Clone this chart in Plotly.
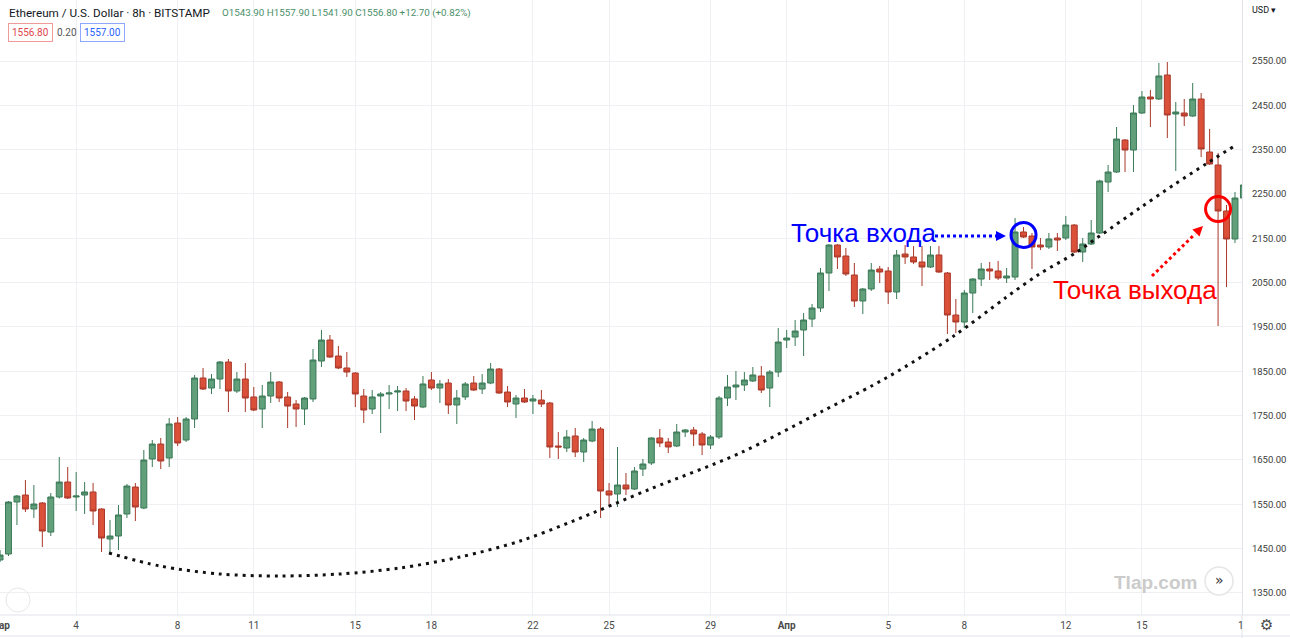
import pandas as pd
import plotly.graph_objects as go

# ---------------- data (8h candles, ETH/USD, Bitstamp) ----------------
start_time = "2021-03-01 00:00"

open_ = [1424.4, 1437.9, 1555.2, 1571.0, 1539.4, 1553.0, 1487.4, 1566.5, 1600.3, 1566.5,
         1571.0, 1577.8, 1539.4, 1471.7, 1478.5, 1528.1, 1589.0, 1541.6, 1652.2, 1686.0,
         1654.4, 1733.4, 1695.0, 1742.4, 1834.9, 1812.3, 1832.6, 1871.0, 1805.6, 1832.6,
         1792.1, 1765.0, 1794.3, 1825.9, 1792.1, 1776.2, 1765.0, 1787.6, 1873.2, 1920.6,
         1884.5, 1857.5, 1846.2, 1794.3, 1765.0, 1794.3, 1798.8, 1803.3, 1805.6, 1787.6,
         1769.5, 1830.4, 1812.3, 1823.6, 1774.0, 1792.1, 1823.6, 1810.1, 1823.6, 1855.2,
         1803.3, 1776.2, 1789.8, 1783.0, 1785.3, 1778.5, 1681.5, 1677.0, 1704.1, 1668.0,
         1692.8, 1719.8, 1580.0, 1573.2, 1593.5, 1584.5, 1629.6, 1643.2, 1699.6, 1690.5,
         1681.5, 1713.1, 1717.6, 1708.6, 1683.8, 1701.8, 1789.8, 1814.6, 1819.1, 1828.2,
         1839.4, 1812.3, 1848.4, 1920.6, 1927.4, 1943.2, 1968.0, 1992.8, 2071.8, 2134.9,
         2110.1, 2067.2, 2008.6, 2035.7, 2080.8, 2076.3, 2028.9, 2114.6, 2107.9, 2096.6,
         2085.3, 2112.4, 2071.8, 1977.0, 1961.2, 2026.6, 2058.2, 2080.8, 2076.3, 2060.5,
         2062.7, 2164.3, 2155.2, 2134.9, 2130.4, 2150.7, 2150.7, 2180.0, 2119.1, 2137.2,
         2162.0, 2277.0, 2299.6, 2371.8, 2349.2, 2432.7, 2468.8, 2464.3, 2518.4, 2430.4,
         2432.7, 2425.9, 2464.3, 2344.7, 2315.4, 2211.6, 2148.5, 2240.9]

high = [1446.9, 1557.4, 1571.0, 1604.8, 1593.5, 1555.0, 1575.5, 1656.7, 1634.1, 1622.9,
        1600.3, 1598.0, 1541.0, 1514.6, 1548.4, 1595.8, 1598.0, 1672.5, 1695.0, 1699.6,
        1744.7, 1747.0, 1747.0, 1841.7, 1857.5, 1843.9, 1873.2, 1877.8, 1848.4, 1868.7,
        1814.6, 1819.1, 1848.4, 1828.0, 1803.3, 1785.3, 1792.0, 1900.3, 1943.2, 1931.9,
        1907.1, 1893.5, 1848.0, 1810.1, 1807.8, 1803.3, 1819.1, 1816.9, 1812.3, 1794.3,
        1839.4, 1848.4, 1830.4, 1832.6, 1807.8, 1825.9, 1839.4, 1843.9, 1868.7, 1857.5,
        1816.9, 1796.6, 1810.1, 1796.6, 1807.8, 1780.8, 1713.1, 1717.6, 1722.1, 1699.6,
        1737.9, 1724.4, 1598.0, 1679.3, 1620.6, 1634.1, 1652.2, 1701.0, 1719.8, 1699.6,
        1731.1, 1719.8, 1724.4, 1713.1, 1706.3, 1794.3, 1841.7, 1850.7, 1848.4, 1859.7,
        1862.0, 1853.0, 1947.7, 1943.2, 1965.7, 1981.5, 2001.8, 2083.1, 2137.2, 2137.0,
        2128.2, 2094.3, 2038.0, 2094.3, 2087.6, 2085.3, 2123.6, 2134.9, 2132.6, 2132.6,
        2132.6, 2132.6, 2074.0, 2013.1, 2033.4, 2060.0, 2094.3, 2096.6, 2098.8, 2083.1,
        2195.8, 2175.5, 2162.0, 2150.7, 2162.0, 2162.0, 2200.3, 2182.0, 2150.7, 2191.3,
        2282.0, 2315.4, 2401.1, 2374.0, 2450.7, 2482.3, 2484.6, 2545.5, 2547.7, 2457.5,
        2464.3, 2500.4, 2477.8, 2396.6, 2342.4, 2225.2, 2254.5, 2281.6]

low = [1419.9, 1433.4, 1503.3, 1532.6, 1519.1, 1453.7, 1478.4, 1563.0, 1562.0, 1534.9,
       1528.1, 1503.3, 1442.4, 1442.4, 1446.9, 1519.1, 1512.3, 1539.0, 1634.1, 1629.6,
       1634.1, 1681.5, 1690.5, 1722.1, 1807.8, 1798.8, 1810.1, 1758.2, 1801.1, 1758.2,
       1760.0, 1722.1, 1778.5, 1780.8, 1722.1, 1724.4, 1728.9, 1780.8, 1859.7, 1880.0,
       1855.0, 1837.2, 1769.5, 1733.4, 1753.7, 1710.8, 1765.0, 1760.4, 1760.4, 1740.2,
       1767.0, 1807.8, 1778.5, 1753.7, 1731.1, 1785.3, 1805.6, 1798.8, 1821.0, 1799.0,
       1769.5, 1744.7, 1778.5, 1753.7, 1769.5, 1654.4, 1652.2, 1668.0, 1656.7, 1645.4,
       1690.0, 1519.1, 1548.4, 1543.9, 1571.0, 1582.3, 1613.8, 1638.6, 1679.3, 1665.7,
       1679.0, 1701.8, 1681.5, 1661.2, 1674.7, 1697.3, 1771.7, 1785.3, 1805.6, 1825.9,
       1801.1, 1769.5, 1837.2, 1902.6, 1907.1, 1884.5, 1949.9, 1983.8, 2031.2, 2080.8,
       2065.0, 1995.1, 1979.3, 2031.2, 2049.2, 2001.8, 2013.1, 2092.1, 2092.1, 2042.4,
       2083.1, 2071.8, 1934.2, 1936.4, 1947.7, 1981.5, 2042.4, 2056.0, 2056.0, 2049.2,
       2056.0, 2150.7, 2080.8, 2123.6, 2125.9, 2121.4, 2146.2, 2116.9, 2096.6, 2134.9,
       2160.0, 2254.5, 2297.4, 2299.6, 2299.6, 2430.4, 2401.1, 2462.0, 2376.3, 2301.9,
       2403.4, 2424.0, 2333.4, 2315.4, 1952.2, 2040.2, 2139.4, 2236.4]

close = [1435.6, 1555.2, 1568.7, 1539.4, 1550.7, 1489.7, 1566.5, 1600.3, 1564.2, 1568.7,
         1577.8, 1534.9, 1473.9, 1478.5, 1525.9, 1591.3, 1543.9, 1649.9, 1686.0, 1647.7,
         1731.2, 1688.3, 1742.4, 1834.9, 1810.1, 1832.6, 1871.0, 1805.6, 1832.6, 1789.8,
         1762.7, 1794.3, 1825.9, 1789.8, 1771.7, 1765.0, 1789.8, 1875.5, 1920.6, 1882.3,
         1857.5, 1848.4, 1798.8, 1762.7, 1792.1, 1798.8, 1801.1, 1805.6, 1783.0, 1771.7,
         1821.4, 1812.3, 1821.4, 1774.0, 1789.8, 1821.4, 1807.8, 1823.6, 1855.2, 1801.1,
         1780.8, 1789.8, 1780.8, 1787.6, 1776.2, 1679.3, 1679.3, 1701.8, 1668.0, 1695.0,
         1719.8, 1580.0, 1571.0, 1593.5, 1584.5, 1625.1, 1640.9, 1699.6, 1688.3, 1679.3,
         1713.1, 1717.6, 1708.6, 1683.8, 1701.8, 1789.8, 1814.6, 1819.1, 1830.4, 1841.7,
         1807.8, 1848.4, 1916.1, 1925.1, 1940.9, 1965.7, 1992.8, 2071.8, 2134.9, 2107.9,
         2069.5, 2008.6, 2035.7, 2078.5, 2074.0, 2028.9, 2112.4, 2107.9, 2096.6, 2085.3,
         2112.4, 2074.0, 1977.0, 1961.2, 2026.6, 2058.2, 2080.8, 2076.3, 2060.5, 2065.0,
         2164.3, 2153.0, 2130.4, 2130.4, 2148.5, 2146.2, 2180.0, 2119.1, 2137.2, 2162.0,
         2279.3, 2299.6, 2374.0, 2349.2, 2432.7, 2468.8, 2464.3, 2516.2, 2428.2, 2434.9,
         2425.9, 2464.3, 2351.5, 2317.6, 2211.6, 2148.5, 2240.9, 2270.3]

candle_times = pd.date_range(start_time, periods=len(open_), freq="8h")

# hand-drawn dotted support curve
curve_time = ["2021-03-05 07:00", "2021-03-07 07:00", "2021-03-09 16:00", "2021-03-12 01:00",
              "2021-03-14 09:30", "2021-03-16 18:00", "2021-03-19 03:00", "2021-03-21 12:00",
              "2021-03-23 14:00", "2021-03-26 15:00", "2021-03-30 04:00", "2021-04-02 10:00",
              "2021-04-04 10:00", "2021-04-05 11:00", "2021-04-07 14:00", "2021-04-09 16:00",
              "2021-04-10 23:00", "2021-04-12 09:00", "2021-04-13 08:00", "2021-04-14 22:00",
              "2021-04-16 06:00", "2021-04-17 14:00", "2021-04-18 14:00"]
curve_price = [1440.2, 1410.9, 1392.8, 1388.3, 1392.8, 1406.3, 1431.1, 1467.2,
               1512.3, 1584.5, 1665.7, 1760.4, 1819.1, 1853.0, 1929.6, 2017.6,
               2069.5, 2116.9, 2155.2, 2218.4, 2270.3, 2320.0, 2356.1]

# entry / exit points
entry_time, entry_price = "2021-04-10 08:00", 2157.5
exit_time, exit_price = "2021-04-18 00:00", 2216.0

# axes ticks
time_ticks = ["2021-03-01", "2021-03-04", "2021-03-08", "2021-03-11", "2021-03-15",
              "2021-03-18", "2021-03-22", "2021-03-25", "2021-03-29", "2021-04-01",
              "2021-04-05", "2021-04-08", "2021-04-12", "2021-04-15"]
time_tick_text = ["<b>Мар</b>", "4", "8", "11", "15", "18", "22", "25", "29",
                  "<b>Апр</b>", "5", "8", "12", "15"]
price_ticks = [1350, 1450, 1550, 1650, 1750, 1850, 1950, 2050, 2150, 2250, 2350, 2450, 2550]
price_tick_text = ["1350.00", "1450.00", "1550.00", "1650.00", "1750.00", "1850.00", "1950.00",
                   "2050.00", "2150.00", "2250.00", "2350.00", "2450.00", "2550.00"]

# ---------------- layout helpers (pixel -> paper) ----------------
W, H = 1290, 638
ML, MR, MT, MB = 0, 48, 0, 23
PW, PH = W - ML - MR, H - MT - MB


def fx(px):
    return (px - ML) / PW


def fy(py):
    return 1 - (py - MT) / PH


UI_FONT = "Roboto"
GRID = "#eef0f4"
BORDER = "#e0e3eb"

fig = go.Figure()
fig.add_trace(go.Candlestick(
    x=candle_times, open=open_, high=high, low=low, close=close,
    increasing=dict(fillcolor="#62a07c", line=dict(color="#3a7956", width=1)),
    decreasing=dict(fillcolor="#da5039", line=dict(color="#a9382a", width=1)),
    whiskerwidth=0, showlegend=False, hoverinfo="skip",
))
fig.add_trace(go.Scatter(
    x=curve_time, y=curve_price, mode="lines",
    line=dict(color="#111111", width=3, dash="3px,5px", shape="spline", smoothing=0.9),
    showlegend=False, hoverinfo="skip",
))

shapes = [
    # time-axis borders
    dict(type="line", xref="paper", yref="paper", x0=0, x1=fx(W), y0=fy(615), y1=fy(615),
         line=dict(color=BORDER, width=1)),
    dict(type="line", xref="paper", yref="paper", x0=0, x1=fx(W), y0=fy(636), y1=fy(636),
         line=dict(color=BORDER, width=1)),
    dict(type="line", xref="paper", yref="paper", x0=1, x1=1, y0=fy(615), y1=fy(H),
         line=dict(color=BORDER, width=1)),
    # faint logo circle bottom-left
    dict(type="circle", xref="paper", yref="paper", x0=fx(6), x1=fx(30), y0=fy(612), y1=fy(588),
         line=dict(color="#e8e8e8", width=1)),
    # scroll button
    dict(type="circle", xref="paper", yref="paper", x0=fx(1205), x1=fx(1233), y0=fy(595), y1=fy(567),
         fillcolor="#ffffff", line=dict(color="#e6e6e6", width=1.5)),
    # entry / exit circles
    dict(type="circle", xref="x", yref="y", xsizemode="pixel", ysizemode="pixel",
         xanchor=entry_time, yanchor=entry_price, x0=-12.5, x1=12.5, y0=-12.5, y1=12.5,
         line=dict(color="#0000ff", width=3)),
    dict(type="circle", xref="x", yref="y", xsizemode="pixel", ysizemode="pixel",
         xanchor=exit_time, yanchor=exit_price, x0=-12.5, x1=12.5, y0=-12.5, y1=12.5,
         line=dict(color="#ff0000", width=3)),
    # dotted arrow shafts
    dict(type="line", xref="paper", yref="paper", x0=fx(935), x1=fx(997), y0=fy(236), y1=fy(236),
         line=dict(color="#0000ff", width=3, dash="dot")),
    dict(type="line", xref="paper", yref="paper", x0=fx(1152), x1=fx(1195), y0=fy(276), y1=fy(234),
         line=dict(color="#ff0000", width=3, dash="dot")),
]

annotations = [
    dict(text="Ethereum / U.S. Dollar · 8h · BITSTAMP", x=fx(7), y=fy(13),
         font=dict(family=UI_FONT, size=11.7, color="#131722")),
    dict(text="O1543.90 H1557.90 L1541.90 C1556.80 +12.70 (+0.82%)", x=fx(220), y=fy(13),
         font=dict(family=UI_FONT, size=9.8, color="#4b8f6a")),
    dict(text="1556.80", x=fx(8), y=fy(32.5), font=dict(family=UI_FONT, size=10, color="#e0464d"),
         bordercolor="#f09a9a", borderwidth=1, borderpad=3, bgcolor="#ffffff"),
    dict(text="0.20", x=fx(55), y=fy(32.5), font=dict(family=UI_FONT, size=10, color="#555555")),
    dict(text="1557.00", x=fx(80), y=fy(32.5), font=dict(family=UI_FONT, size=10, color="#2962ff"),
         bordercolor="#8fa8ff", borderwidth=1, borderpad=3, bgcolor="#ffffff"),
    dict(text="USD ▾", x=fx(1250), y=fy(10), font=dict(family=UI_FONT, size=9, color="#131722")),
    dict(text="Точка входа", x=fx(789), y=fy(233),
         font=dict(family="Liberation Sans", size=26, color="#0000ff")),
    dict(text="Точка выхода", x=fx(1051), y=fy(290),
         font=dict(family="Liberation Sans", size=26, color="#ff0000")),
    dict(text="<b>Tlap.com</b>", x=fx(1155), y=fy(582), xanchor="center",
         font=dict(family="Liberation Sans", size=19, color="#cbcbcb")),
    dict(text="»", x=fx(1219), y=fy(580), xanchor="center",
         font=dict(family="DejaVu Sans", size=14, color="#333333")),
    dict(text="⚙", x=fx(1266), y=fy(625), xanchor="center",
         font=dict(family="DejaVu Sans", size=15, color="#4a4a4a")),
    dict(text="1", x=fx(1240.5), y=fy(625), xanchor="center",
         font=dict(family=UI_FONT, size=10, color="#4a4a4a")),
]
for a in annotations:
    a.setdefault("xref", "paper")
    a.setdefault("yref", "paper")
    a.setdefault("xanchor", "left")
    a.setdefault("yanchor", "middle")
    a.setdefault("showarrow", False)

# arrow heads
annotations += [
    dict(xref="paper", yref="paper", x=fx(1006), y=fy(236), ax=-9, ay=0, text="",
         showarrow=True, arrowhead=2, arrowsize=1, arrowwidth=2, arrowcolor="#0000ff"),
    dict(xref="paper", yref="paper", x=fx(1203), y=fy(226), ax=-7, ay=7, text="",
         showarrow=True, arrowhead=2, arrowsize=1, arrowwidth=2, arrowcolor="#ff0000"),
]

fig.update_layout(
    width=W, height=H,
    margin=dict(l=ML, r=MR, t=MT, b=MB, pad=0, autoexpand=False),
    paper_bgcolor="#ffffff", plot_bgcolor="#ffffff",
    boxgap=0.3, boxgroupgap=0,
    showlegend=False,
    shapes=shapes, annotations=annotations,
    xaxis=dict(
        type="date", range=["2021-02-28 23:58", "2021-04-18 22:38"],
        tickvals=time_ticks, ticktext=time_tick_text,
        showgrid=True, gridcolor=GRID, gridwidth=1, zeroline=False, showline=False,
        ticks="", ticklabelstandoff=3, ticklabeloverflow="allow", automargin=False,
        tickfont=dict(family=UI_FONT, size=10, color="#4a4a4a"),
        rangeslider=dict(visible=False), fixedrange=True,
    ),
    yaxis=dict(
        side="right", range=[1300.3, 2687.6], automargin=False,
        tickvals=price_ticks, ticktext=price_tick_text,
        showgrid=True, gridcolor=GRID, gridwidth=1, zeroline=False,
        showline=True, linecolor=BORDER, linewidth=1,
        ticks="", ticklabelstandoff=7,
        tickfont=dict(family=UI_FONT, size=9.5, color="#3c3c3c"),
    ),
)

fig.write_html("out.html")
